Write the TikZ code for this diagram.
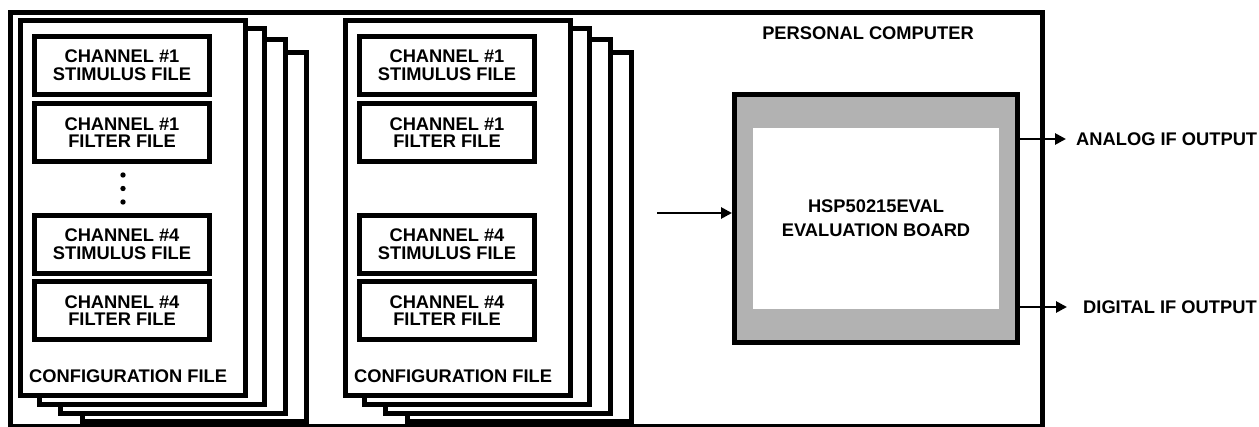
\documentclass[tikz,border=0pt]{standalone}
\usepackage{fontspec}
\setmainfont{Liberation Sans}
\usetikzlibrary{positioning,arrows.meta}

\tikzset{
    thickline/.style={line width=5pt},
    page/.style={thickline, fill=white},
    filebox/.style={draw, thickline, fill=white, minimum width=175pt, minimum height=58pt,
        inner sep=0pt, align=center, font=\fontsize{18.3}{17.7}\selectfont\bfseries},
    lbl/.style={inner sep=0pt, font=\fontsize{18.3}{22}\selectfont\bfseries},
    sig/.style={line width=2.7pt, -{Triangle[length=11pt,width=11pt]}},
}

\begin{document}
\begin{tikzpicture}[x=1pt, y=-1pt]
    \useasboundingbox (0,0) rectangle (1259,427);

    % Personal computer frame
    \draw[thickline] (10.5,12.5) rectangle (1042,426.5);
    \node[lbl] (pc) at (868,33.5) {PERSONAL COMPUTER};

    % Two stacks of configuration files
    \foreach \sx/\n in {0/a, 325/b} {
    \begin{scope}[xshift=\sx pt]
        % pages, back to front
        \foreach \l/\t/\r/\b in {82.5/52.5/306.5/421.5, 60.5/39.5/285/413.5,
                                 39.5/28.5/264/405, 20.5/20.5/245.5/395.5}
            \draw[page] (\l,\t) rectangle (\r,\b);
        \node[filebox] (stim1\n) at (122,65.5) {CHANNEL \#1\\STIMULUS FILE};
        \node[filebox, below=4pt of stim1\n] (filt1\n) {CHANNEL \#1\\FILTER FILE};
        \node[filebox, below=49pt of filt1\n] (stim4\n) {CHANNEL \#4\\STIMULUS FILE};
        \node[filebox, below=3pt of stim4\n] (filt4\n) {CHANNEL \#4\\FILTER FILE};
        \node[lbl, anchor=base west] (cfg\n) at (29,383) {CONFIGURATION FILE};
    \end{scope}
    }

    % Dots between channel 1 and channel 4
    \foreach \y in {175,188.5,202}
        \fill (123,\y) circle (2.7pt);

    % Evaluation board
    \node[draw, thickline, fill=black!30, minimum width=283pt, minimum height=248pt,
        inner sep=0pt] (board) at (876,218.5) {};
    \node[fill=white, minimum width=246pt, minimum height=181pt, inner sep=0pt,
        align=center, font=\fontsize{18.3}{24}\selectfont\bfseries] (boardtxt) at (board)
        {HSP50215EVAL\\EVALUATION BOARD};

    % Input and outputs
    \coordinate (cfgout) at (657,213);
    \draw[sig] (cfgout) -- (board.west |- cfgout);
    \coordinate (atip) at (1066,139);
    \coordinate (dtip) at (1067,307);
    \draw[sig] (board.east |- atip) -- (atip);
    \draw[sig] (board.east |- dtip) -- (dtip);
    \node[lbl, anchor=west] (analog) at (1076,139) {ANALOG IF OUTPUT};
    \node[lbl, anchor=west] (digital) at (1083,307) {DIGITAL IF OUTPUT};
\end{tikzpicture}
\end{document}
